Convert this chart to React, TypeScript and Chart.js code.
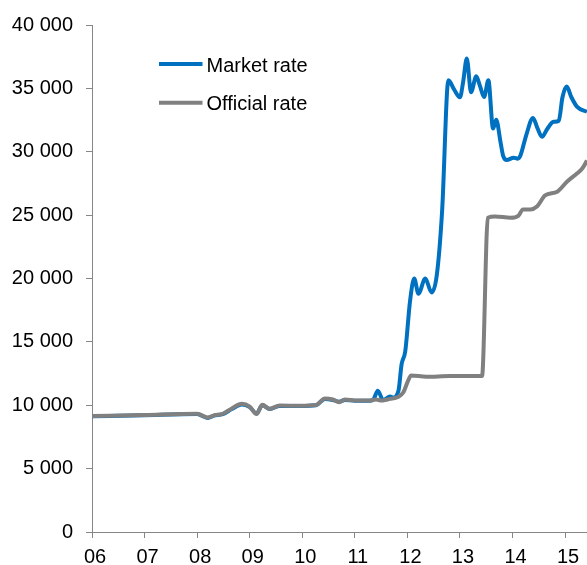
import { useEffect, useRef } from "react";
import { Chart, registerables } from "chart.js";

Chart.register(...registerables);

// Tick positions (years) and their labels
const yearTicks = [2006, 2007, 2008, 2009, 2010, 2011, 2012, 2013, 2014, 2015];
const tickLabels = ["06", "07", "08", "09", "10", "11", "12", "13", "14", "15"];
const xStart = 2006;
const xEnd = 2015.4167;

const seriesLabels = ["Market rate", "Official rate"];

// Official rate: dates as decimal years
const officialDates = [
  2006.0, 2007.0, 2008.0, 2008.2, 2008.32, 2008.49, 2008.66, 2008.85, 2009.0, 2009.13,
  2009.24, 2009.38, 2009.57, 2009.96, 2010.26, 2010.43, 2010.58, 2010.7, 2010.81, 2011.0,
  2011.29, 2011.4, 2011.51, 2011.67, 2011.82, 2011.92, 2012.01, 2012.07, 2012.36, 2012.81,
  2013.42, 2013.53, 2013.67, 2013.96, 2014.11, 2014.2, 2014.34, 2014.47, 2014.62, 2014.85,
  2015.04, 2015.23, 2015.33, 2015.4167,
];
const officialValues = [
  9150, 9230, 9320, 9040, 9200, 9330, 9750, 10120, 9900, 9300,
  10030, 9720, 9980, 9960, 10020, 10530, 10450, 10240, 10450, 10380,
  10370, 10450, 10370, 10500, 10650, 11000, 11900, 12350, 12250, 12300,
  12300, 24800, 24900, 24800, 24950, 25450, 25450, 25700, 26550, 26850,
  27650, 28300, 28700, 29300,
];

// Market rate: dates as decimal years
const marketDates = [
  2006.0, 2007.0, 2008.0, 2008.2, 2008.32, 2008.49, 2008.66, 2008.85, 2009.0, 2009.13,
  2009.24, 2009.38, 2009.57, 2009.96, 2010.26, 2010.43, 2010.58, 2010.7, 2010.81, 2011.0,
  2011.29, 2011.36, 2011.436, 2011.54, 2011.67, 2011.73, 2011.83, 2011.89, 2011.96, 2012.05,
  2012.13, 2012.21, 2012.34, 2012.46, 2012.56, 2012.66, 2012.78, 2012.89, 2013.0, 2013.06,
  2013.13, 2013.21, 2013.31, 2013.38, 2013.46, 2013.54, 2013.63, 2013.69, 2013.77, 2013.82,
  2013.89, 2014.02, 2014.1, 2014.15, 2014.26, 2014.39, 2014.47, 2014.56, 2014.66, 2014.78,
  2014.88, 2014.95, 2015.03, 2015.12, 2015.23, 2015.4167,
];
const marketValues = [
  9130, 9220, 9300, 9000, 9180, 9300, 9700, 10050, 9850, 9350,
  10000, 9700, 9950, 9940, 10000, 10500, 10420, 10280, 10420, 10350,
  10350, 10500, 11150, 10400, 10700, 10610, 11140, 13240, 14280, 18210,
  20000, 18800, 20000, 18900, 20300, 25300, 35640, 34900, 34300, 35500,
  37350, 34700, 35950, 35200, 34320, 35640, 31830, 32520, 30800, 29700,
  29350, 29530, 29450, 29700, 31300, 32670, 31900, 31180, 31800, 32360,
  32450, 34300, 35150, 34300, 33540, 33150,
];

const FONT = "'Liberation Sans', Arial, sans-serif";
const AXIS = "#868686";

const insideLegend = {
  id: "insideLegend",
  afterDraw(chart: any) {
    const ctx = chart.ctx;
    ctx.save();
    seriesLabels.forEach((label, i) => {
      const ds = chart.data.datasets.find((d: any) => d.label === label);
      if (!ds) return;
      const yLine = 64 + i * 38.7;
      ctx.strokeStyle = ds.borderColor;
      ctx.lineWidth = 4;
      ctx.lineCap = "butt";
      ctx.beginPath();
      ctx.moveTo(159, yLine);
      ctx.lineTo(202.5, yLine);
      ctx.stroke();
      ctx.fillStyle = "#000";
      ctx.font = `20px ${FONT}`;
      ctx.textAlign = "left";
      ctx.textBaseline = "alphabetic";
      ctx.fillText(label, 206.5, 71.7 + i * 38.7);
    });
    ctx.restore();
  },
};

function fmt(v: number) {
  return String(v).replace(/\B(?=(\d{3})+(?!\d))/g, " ");
}

export default function App() {
  const ref = useRef<HTMLCanvasElement>(null);
  useEffect(() => {
    if (!ref.current) return;
    const chart = new Chart(ref.current, {
      type: "line",
      data: {
        datasets: [
          {
            label: seriesLabels[0],
            data: marketDates.map((d, i) => ({ x: d, y: marketValues[i] })),
            borderColor: "#0070C0",
            backgroundColor: "#0070C0",
            borderWidth: 4,
            pointRadius: 0,
            cubicInterpolationMode: "monotone",
            order: 1,
          },
          {
            label: seriesLabels[1],
            data: officialDates.map((d, i) => ({ x: d, y: officialValues[i] })),
            borderColor: "#808080",
            backgroundColor: "#808080",
            borderWidth: 4,
            pointRadius: 0,
            cubicInterpolationMode: "monotone",
            order: 0,
          },
        ],
      },
      options: {
        responsive: false,
        animation: false,
        events: [],
        layout: { padding: { top: 23, left: 0, right: 0, bottom: 0 } },
        plugins: { legend: { display: false }, tooltip: { enabled: false } },
        scales: {
          x: {
            type: "linear",
            min: xStart,
            max: xEnd,
            afterBuildTicks: (scale: any) => {
              scale.ticks = yearTicks.map((v) => ({ value: v }));
            },
            afterFit: (scale: any) => {
              scale.height = 33;
            },
            grid: {
              display: true,
              drawOnChartArea: false,
              drawTicks: true,
              tickLength: 6,
              color: AXIS,
            },
            border: { display: true, color: AXIS, width: 1 },
            ticks: {
              autoSkip: false,
              maxRotation: 0,
              padding: 7,
              labelOffset: 3,
              color: "#000",
              font: { family: FONT, size: 20 },
              callback: (_v: any, i: number) => tickLabels[i],
            },
          },
          y: {
            min: 0,
            max: 40000,
            afterFit: (scale: any) => {
              scale.width = 92;
            },
            grid: {
              display: true,
              drawOnChartArea: false,
              drawTicks: true,
              tickLength: 6,
              color: AXIS,
            },
            border: { display: true, color: AXIS, width: 1 },
            ticks: {
              stepSize: 5000,
              padding: 13,
              color: "#000",
              font: { family: FONT, size: 20 },
              callback: (v: any) => fmt(Number(v)),
            },
          },
        },
      },
      plugins: [insideLegend],
    } as any);
    return () => chart.destroy();
  }, []);
  return (
    <div style={{ position: "absolute", left: 0, top: 0, width: 587, height: 565 }}>
      <canvas ref={ref} width={587} height={565} />
    </div>
  );
}
